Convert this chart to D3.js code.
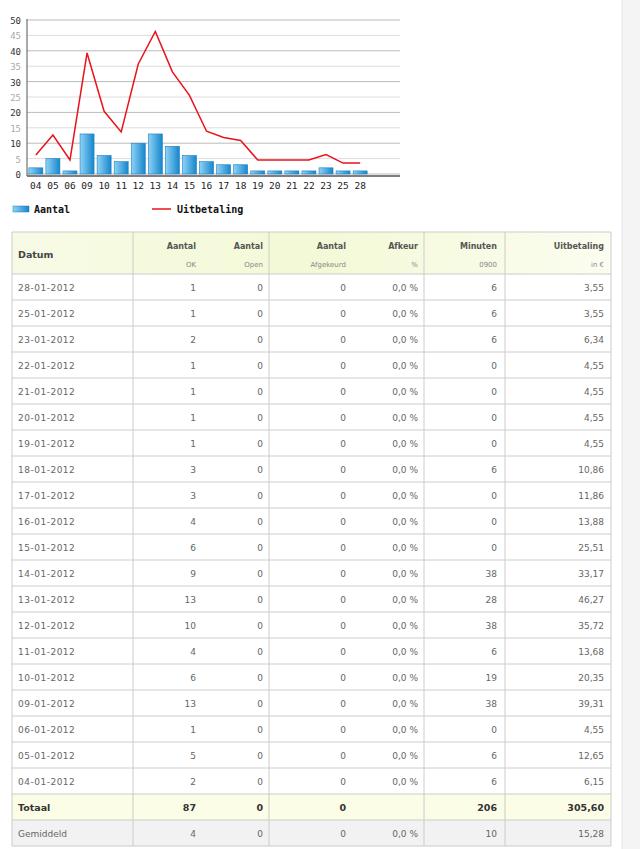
<!DOCTYPE html><html><head><meta charset="utf-8">
<script src="https://cdn.jsdelivr.net/npm/d3@7"></script>
<style>body{margin:0;background:#fff;overflow:hidden}svg{display:block}</style></head><body>
<svg id="c" width="640" height="849"></svg>
<script>
const days=["04","05","06","09","10","11","12","13","14","15","16","17","18","19","20","21","22","23","25","28"];
const aantal=[2,5,1,13,6,4,10,13,9,6,4,3,3,1,1,1,1,2,1,1];
const uitbetaling=[6.15,12.65,4.55,39.31,20.35,13.68,35.72,46.27,33.17,25.51,13.88,11.86,10.86,4.55,4.55,4.55,4.55,6.34,3.55,3.55];
const minuten=[6,6,0,38,19,6,38,28,38,0,0,0,6,0,0,0,0,6,6,6];
const yTicks=[0,5,10,15,20,25,30,35,40,45,50];
const totals={aantal:"87",open:"0",afg:"0",min:"206",uit:"305,60"};
const avg={aantal:"4",open:"0",afg:"0",afk:"0,0 %",min:"10",uit:"15,28"};

const svg=d3.select("#c");
const defs=svg.append("defs");
const g1=defs.append("linearGradient").attr("id","bar");
g1.append("stop").attr("offset","0").attr("stop-color","#8fd3f7");
g1.append("stop").attr("offset","1").attr("stop-color","#1686cc");
const g2=defs.append("linearGradient").attr("id","hdr");
g2.append("stop").attr("offset","0").attr("stop-color","#f7fbe6");
g2.append("stop").attr("offset","0.5").attr("stop-color","#f3f9d6");
g2.append("stop").attr("offset","1").attr("stop-color","#fbfdf0");

const x=d3.scaleBand().domain(days).range([28,368]).paddingInner(0.18).paddingOuter(0.05);
const y=d3.scaleLinear().domain([0,50]).range([174,20]);
const X0=27,X1=400;
svg.append("g").selectAll("line").data(yTicks).join("line")
 .attr("x1",X0).attr("x2",X1).attr("y1",d=>y(d)).attr("y2",d=>y(d))
 .attr("stroke",d=>d%10===0?"#bbb":"#ddd");
svg.append("g").selectAll("text").data(yTicks).join("text")
 .attr("x",21).attr("y",d=>y(d)+4).attr("text-anchor","end")
 .attr("font-family","DejaVu Sans Mono").attr("font-size",9)
 .attr("fill",d=>d%10===0?"#333":"#aaa").text(d=>d);
svg.append("g").selectAll("rect").data(aantal).join("rect")
 .attr("x",(d,i)=>x(days[i])).attr("width",x.bandwidth())
 .attr("y",d=>y(d)).attr("height",d=>y(0)-y(d))
 .attr("fill","url(#bar)").attr("stroke","#1a7fc0").attr("stroke-width",0.6);
svg.append("path").datum(uitbetaling)
 .attr("d",d3.line().x((d,i)=>x(days[i])+x.bandwidth()/2).y(d=>y(d)))
 .attr("fill","none").attr("stroke","#e8131b").attr("stroke-width",1.5);
svg.append("line").attr("x1",X0).attr("x2",X0).attr("y1",19).attr("y2",176).attr("stroke","#555");
svg.append("line").attr("x1",X0).attr("x2",X1).attr("y1",176).attr("y2",176).attr("stroke","#555").attr("stroke-width",1.5);
svg.append("g").selectAll("text").data(days).join("text")
 .attr("x",d=>x(d)+x.bandwidth()/2).attr("y",189).attr("text-anchor","middle")
 .attr("font-family","DejaVu Sans Mono").attr("font-size",9.5).attr("fill","#222").text(d=>d);
svg.append("rect").attr("x",13).attr("y",206).attr("width",16).attr("height",6).attr("fill","url(#bar)").attr("stroke","#1a7fc0").attr("stroke-width",0.5);
svg.append("text").attr("x",34).attr("y",213).attr("font-family","DejaVu Sans Mono").attr("font-weight","bold").attr("font-size",10).attr("fill","#111").text("Aantal");
svg.append("line").attr("x1",152).attr("x2",171).attr("y1",209).attr("y2",209).attr("stroke","#e8131b").attr("stroke-width",1.5);
svg.append("text").attr("x",177).attr("y",213).attr("font-family","DejaVu Sans Mono").attr("font-weight","bold").attr("font-size",10).attr("fill","#111").text("Uitbetaling");

const T=svg.append("g").attr("font-family","DejaVu Sans").attr("fill","#666");
const L=12,R=611,tTop=232,hH=42,rH=26;
const vlines=[L,133,269,424,505,R];
const cols=[{k:"aantal",x:196},{k:"open",x:263},{k:"afg",x:346},{k:"afk",x:418},{k:"min",x:497},{k:"uit",x:604}];
T.append("rect").attr("x",L).attr("y",tTop).attr("width",R-L).attr("height",hH).attr("fill","url(#hdr)");
const heads=[["Aantal","OK"],["Aantal","Open"],["Aantal","Afgekeurd"],["Afkeur","%"],["Minuten","0900"],["Uitbetaling","in €"]];
T.append("text").attr("x",18).attr("y",258).attr("font-size",9.5).attr("font-weight","bold").attr("fill","#444").text("Datum");
heads.forEach((h,i)=>{
 T.append("text").attr("x",cols[i].x).attr("y",249).attr("text-anchor","end").attr("font-size",8).attr("font-weight","bold").attr("fill","#555").text(h[0]);
 T.append("text").attr("x",cols[i].x).attr("y",267).attr("text-anchor","end").attr("font-size",7).attr("fill","#888").text(h[1]);
});
const n=days.length;
const rows=d3.range(n).map(j=>{const i=n-1-j;return {d:days[i]+"-01-2012",aantal:aantal[i],open:0,afg:0,afk:"0,0 %",min:minuten[i],uit:uitbetaling[i].toFixed(2).replace(".",",")};});
rows.forEach((r,j)=>{
 const yy=tTop+hH+j*rH;
 T.append("text").attr("x",18).attr("y",yy+17).attr("font-size",9).attr("letter-spacing",0.5).text(r.d);
 cols.forEach(c=>T.append("text").attr("x",c.x).attr("y",yy+17).attr("text-anchor","end").attr("font-size",9).text(r[c.k]));
});
const ty=tTop+hH+n*rH;
T.append("rect").attr("x",L).attr("y",ty).attr("width",R-L).attr("height",rH).attr("fill","#fbfde6");
T.append("rect").attr("x",L).attr("y",ty+rH).attr("width",R-L).attr("height",rH).attr("fill","#f2f2f2");
T.append("text").attr("x",18).attr("y",ty+17).attr("font-size",9.5).attr("font-weight","bold").attr("fill","#333").text("Totaal");
cols.forEach(c=>{if(totals[c.k])T.append("text").attr("x",c.x).attr("y",ty+17).attr("text-anchor","end").attr("font-size",9.5).attr("font-weight","bold").attr("fill","#333").text(totals[c.k]);});
T.append("text").attr("x",18).attr("y",ty+rH+17).attr("font-size",9).text("Gemiddeld");
cols.forEach(c=>T.append("text").attr("x",c.x).attr("y",ty+rH+17).attr("text-anchor","end").attr("font-size",9).text(avg[c.k]));
const hl=d3.range(n+3).map(k=>tTop+hH+k*rH);
T.append("g").selectAll("line").data([tTop].concat(hl)).join("line").attr("x1",L).attr("x2",R).attr("y1",d=>d).attr("y2",d=>d).attr("stroke","#ccc");
T.append("g").selectAll("line").data(vlines).join("line").attr("x1",d=>d).attr("x2",d=>d).attr("y1",tTop).attr("y2",hl[hl.length-1]).attr("stroke","#ccc");
svg.append("rect").attr("x",622).attr("y",0).attr("width",18).attr("height",849).attr("fill","#f4f4f4");
svg.append("line").attr("x1",622).attr("x2",622).attr("y1",0).attr("y2",849).attr("stroke","#e6e6e6");
</script></body></html>
